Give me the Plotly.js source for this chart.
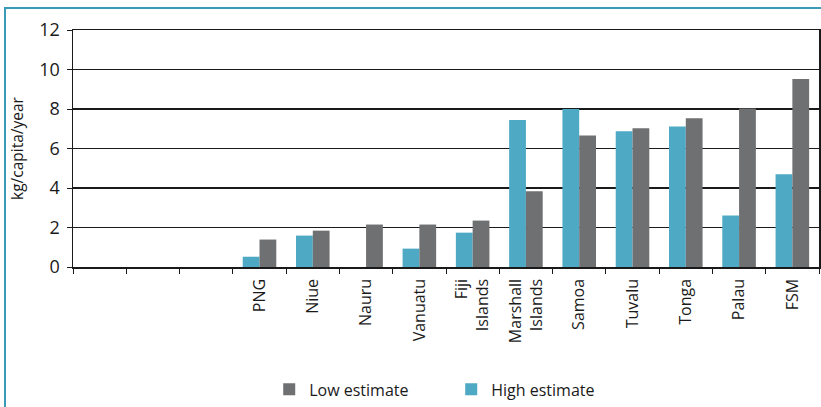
<!DOCTYPE html>
<html>
<head>
<meta charset="utf-8">
<script src="https://cdn.plot.ly/plotly-3.0.1.min.js"></script>
<style>
  html, body { margin: 0; padding: 0; background: #fff; }
  #wrap { position: relative; width: 821px; height: 407px; overflow: hidden; }
  #chart { width: 821px; height: 407px; }
  #frame { position: absolute; left: 4px; top: 7px; width: 900px; height: 500px;
           border-top: 2px solid #3a9bb8; border-left: 2px solid #3a9bb8; pointer-events: none; }
</style>
</head>
<body>
<div id="wrap">
  <div id="chart"></div>
  <div id="frame"></div>
</div>
<script>
const categories = [' ', '  ', '   ', 'PNG', 'Niue', 'Nauru', 'Vanuatu', 'Fiji<br>Islands',
  'Marshall<br>Islands', 'Samoa', 'Tuvalu', 'Tonga', 'Palau', 'FSM'];
const highEstimate = [null, null, null, 0.52, 1.59, 0, 0.93, 1.74, 7.44, 8.0, 6.87, 7.12, 2.61, 4.69];
const lowEstimate  = [null, null, null, 1.39, 1.84, 2.15, 2.15, 2.35, 3.83, 6.66, 7.02, 7.53, 8.02, 9.52];
const yTicks = [0, 2, 4, 6, 8, 10, 12];

const font = 'Open Sans, Noto Sans, sans-serif';

const traces = [
  { type: 'bar', name: 'High estimate', x: categories, y: highEstimate,
    marker: { color: '#4ea9c4' }, legendrank: 2 },
  { type: 'bar', name: 'Low estimate', x: categories, y: lowEstimate,
    marker: { color: '#6f7072' }, legendrank: 1 }
];

const layout = {
  width: 821, height: 407,
  margin: { l: 73, r: 2, t: 30, b: 139 },
  paper_bgcolor: '#fff', plot_bgcolor: '#fff',
  font: { family: font, size: 16, color: '#1a1a1a' },
  barmode: 'group', bargap: 0.37, bargroupgap: 0,
  showlegend: true,
  legend: { orientation: 'h', x: 0.507, xanchor: 'center', y: -0.51, yanchor: 'middle',
            font: { family: font, size: 16, color: '#1a1a1a' }, itemwidth: 30, entrywidth: 137 },
  xaxis: {
    type: 'category', categoryorder: 'array', categoryarray: categories,
    tickangle: -90, ticks: 'outside', ticklen: 5, tickcolor: '#1a1a1a',
    tickson: 'boundaries', showgrid: false, ticklabelstandoff: 4,
    showline: true, linecolor: '#1a1a1a', linewidth: 1.5, mirror: true,
    tickfont: { family: font, size: 16, color: '#1a1a1a' }, fixedrange: true
  },
  yaxis: {
    range: [0, 12], tickvals: yTicks, ticktext: yTicks.map(String),
    ticks: 'outside', ticklen: 5, tickcolor: '#1a1a1a', ticklabelstandoff: 3,
    showgrid: true, gridcolor: '#1a1a1a', gridwidth: 1.2,
    showline: true, linecolor: '#1a1a1a', linewidth: 1.5, mirror: true,
    zeroline: false,
    tickfont: { family: font, size: 18, color: '#1a1a1a' },
    title: { text: 'kg/capita/year', font: { family: font, size: 15.5, color: '#1a1a1a' }, standoff: 12 },
    fixedrange: true
  }
};

Plotly.newPlot('chart', traces, layout, { displayModeBar: false, staticPlot: true });
</script>
</body>
</html>
